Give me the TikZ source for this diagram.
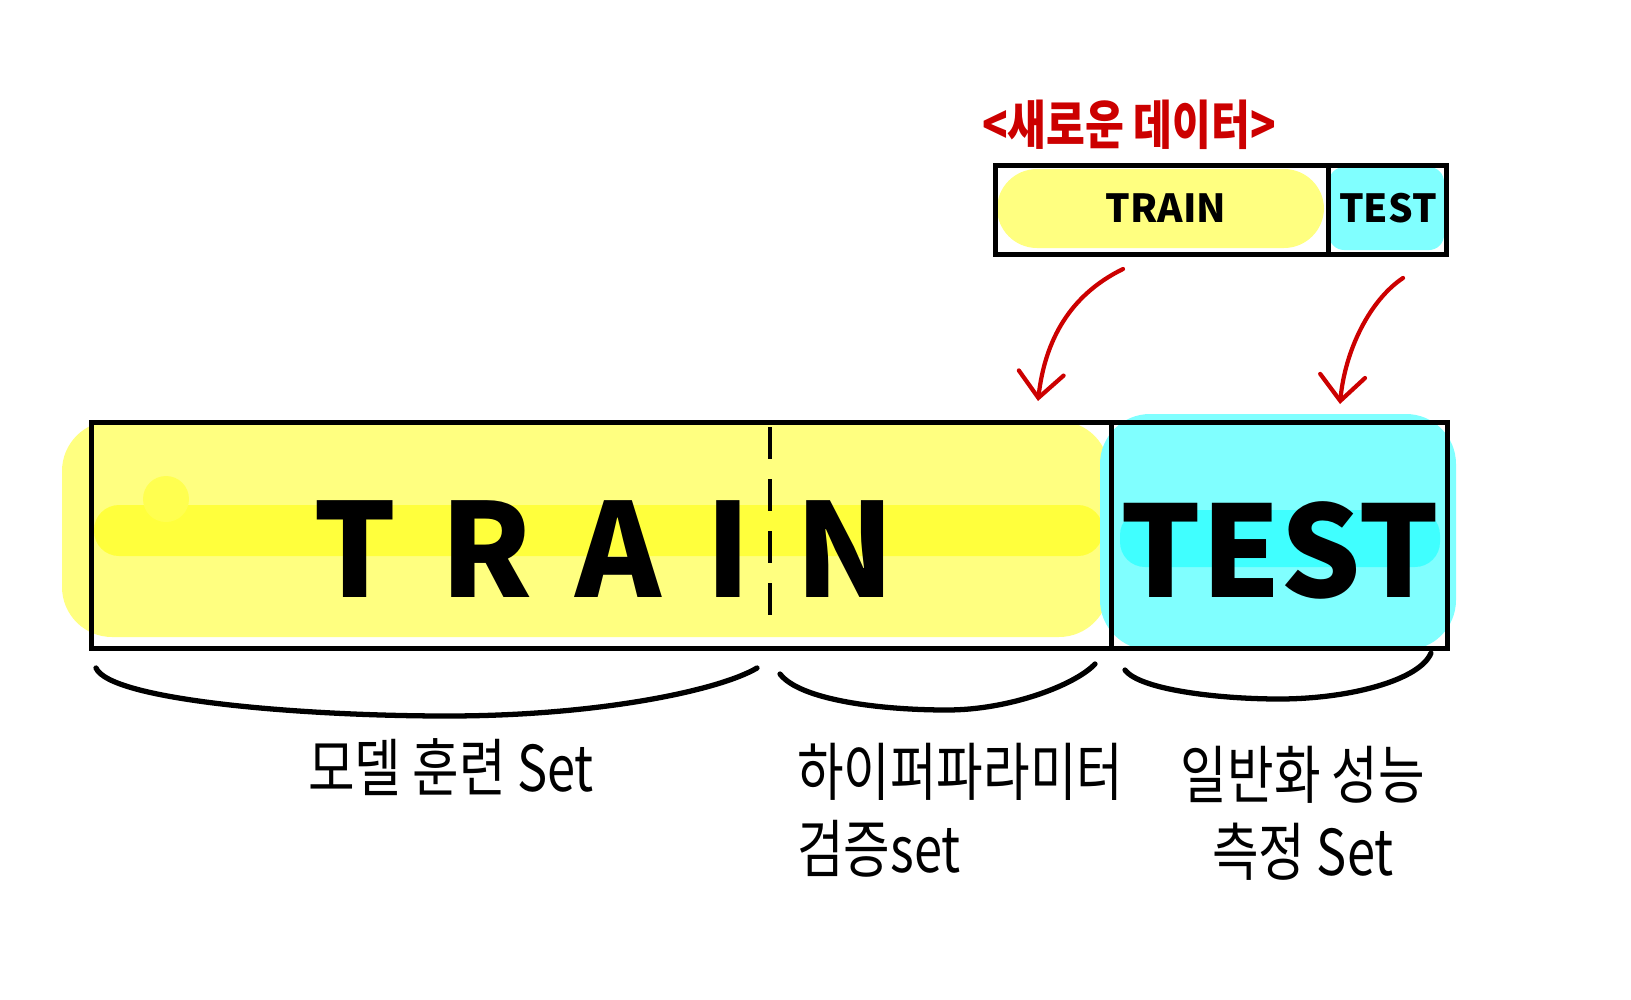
\documentclass[tikz,border=0pt]{standalone}
\usepackage{fontspec}
\newfontfamily\hangul[FakeStretch=0.8]{Noto Sans CJK KR}
\newfontfamily\wideword[LetterSpace=34]{Noto Sans CJK KR}
\newfontfamily\tightword{Noto Sans CJK KR}
\usetikzlibrary{arrows.meta, positioning}

\definecolor{hlyellow}{RGB}{255,255,128}
\definecolor{hlyellowdeep}{RGB}{255,255,60}
\definecolor{hlcyan}{RGB}{128,255,255}
\definecolor{hlcyandeep}{RGB}{64,255,255}
\definecolor{penred}{RGB}{204,0,0}

\begin{document}
\begin{tikzpicture}[
    x=0.2mm, y=-0.2mm,
    box/.style={draw, line width=2.8pt, anchor=north west, inner sep=0pt},
    brace/.style={line width=3pt, line cap=round, line join=round},
    newarrow/.style={penred, line width=2.4pt, line cap=round,
        -{Straight Barb[length=5mm, width=9mm, line cap=round]}},
    smallword/.style={font=\tightword\bfseries\fontsize{22}{26}\selectfont},
    setlabel/.style={font=\hangul\fontsize{36}{44}\selectfont}
]
    \useasboundingbox (0,0) rectangle (1631,1000);

    % 1. 형광펜 칠하기
    \fill[hlyellow, rounded corners=10mm] (62,421) rectangle (1109,637);
    \fill[hlyellowdeep, rounded corners=5mm] (94,505) rectangle (1103,556);
    \fill[hlyellowdeep!70!hlyellow] (166,499) circle (4.6mm);
    \fill[hlcyan, rounded corners=10mm] (1100,414) rectangle (1456,650);
    \fill[hlcyandeep, rounded corners=5mm] (1120,510) rectangle (1440,567);

    \fill[hlyellow, rounded corners=8mm] (997,169) rectangle (1324,248);
    \fill[hlcyan, rounded corners=3mm] (1329,167) rectangle (1444,250);

    % 2. 상자들
    \node[box, minimum width=204mm, minimum height=45.2mm] (bigtrain) at (89,420) {};
    \node[box, minimum width=67.2mm, minimum height=45.2mm] (bigtest) at (1109,420) {};
    \node[box, minimum width=66.6mm, minimum height=17.8mm] (smalltrain) at (993,163) {};
    \node[box, minimum width=23.6mm, minimum height=17.8mm] (smalltest) at (1326,163) {};

    % 검증 구간 나누는 점선
    \draw[line width=2.2pt, dash pattern=on 6.4mm off 4mm] (770,427) -- (770,629);

    % 3. 글자
    \node[font=\wideword\bfseries\fontsize{74}{80}\selectfont] (trainword) at (604,549) {TRAIN};
    \node[font=\tightword\bfseries\fontsize{72}{80}\selectfont] (testword) at (1280,550) {TEST};
    \node[smallword] (smalltrainword) at (1166,208) {TRAIN};
    \node[smallword] (smalltestword) at (1388,208) {TEST};
    \node[font=\hangul\bfseries\fontsize{30}{34}\selectfont, text=penred] (title) at (1129,125) {<새로운 데이터>};

    % 4. 새로운 데이터 화살표
    \coordinate (trainfrom) at (1123,269);
    \coordinate (trainto) at (1038,401);
    \coordinate (testfrom) at (1403,278);
    \coordinate (testto) at (1340,404);
    \draw[newarrow] (trainfrom) .. controls (1070,295) and (1045,340) .. (trainto);
    \draw[newarrow] (testfrom) .. controls (1370,300) and (1345,350) .. (testto);

    % 5. 중괄호
    \draw[brace] (96,668) .. controls (110,700) and (300,716) .. (447,716)
        .. controls (600,716) and (720,690) .. (757,668);
    \draw[brace] (780,674) .. controls (800,700) and (880,710) .. (947,710)
        .. controls (1010,710) and (1075,685) .. (1095,664);
    \draw[brace] (1125,670) .. controls (1140,690) and (1220,699) .. (1279,699)
        .. controls (1350,699) and (1420,680) .. (1431,653);

    % 6. 설명
    \node[setlabel] (trainlabel) at (451,767) {모델 훈련 Set};
    \node[setlabel, align=left, anchor=west] (validlabel) at (791,810) {하이퍼파라미터\\검증set};
    \node[setlabel, align=center] (testlabel) at (1303,813) {일반화 성능\\측정 Set};

\end{tikzpicture}
\end{document}
